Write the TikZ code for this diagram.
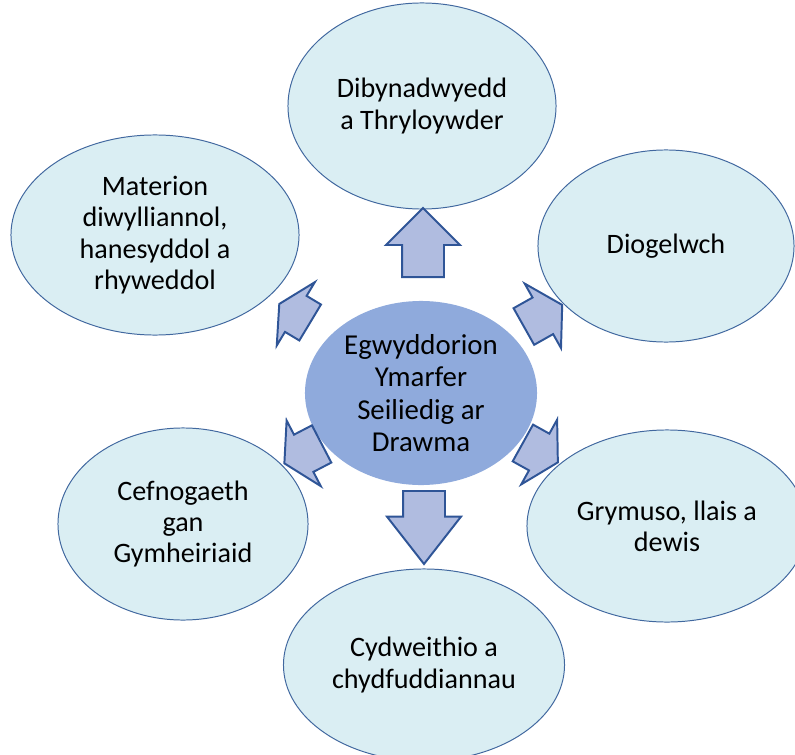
\documentclass[tikz,border=0pt]{standalone}
\usepackage{fontspec}
\setmainfont{Carlito}
\usetikzlibrary{shapes.geometric, shapes.arrows}
\definecolor{petal}{HTML}{DAEEF3}
\definecolor{petaledge}{HTML}{41689F}
\definecolor{hubfill}{HTML}{8FAADC}
\definecolor{spokefill}{HTML}{B0BCE0}
\definecolor{spokeedge}{HTML}{2F5597}

\begin{document}
\begin{tikzpicture}[x=0.025cm, y=-0.025cm,
  petalnode/.style={ellipse, draw=petaledge, fill=petal, line width=0.7pt, inner sep=0pt, outer sep=0pt,
    align=center, font=\fontsize{20}{22.2}\selectfont},
  hubnode/.style={ellipse, fill=hubfill, inner sep=0pt, outer sep=0pt,
    align=center, font=\fontsize{20.5}{23}\selectfont},
  spoke/.style={single arrow, draw=spokeedge, fill=spokefill, line width=1.4pt, inner xsep=0pt, inner ysep=0.5cm,
    single arrow head extend=0.4cm, single arrow head indent=0pt, minimum width=0pt, anchor=tail}]
  \useasboundingbox (0,0) rectangle (795,755);

  \node[petalnode, minimum width=6.7cm, minimum height=5.15cm] (dibyn) at (422,106) {Dibynadwyedd\\a Thryloywder};
  \node[petalnode, minimum width=6.4cm, minimum height=4.8cm] (diogel) at (666,246) {Diogelwch};
  \node[petalnode, minimum width=7.0cm, minimum height=4.8cm] (grymuso) at (667,526) {Grymuso, llais a\\dewis};
  \node[petalnode, minimum width=7.025cm, minimum height=4.8cm] (cydweith) at (424,665) {Cydweithio a\\chydfuddiannau};
  \node[petalnode, minimum width=6.25cm, minimum height=4.8cm] (cefnog) at (183,524) {Cefnogaeth\\gan\\Gymheiriaid};
  \node[petalnode, minimum width=7.2cm, minimum height=5.0cm] (materion) at (155,235) {Materion\\diwylliannol,\\hanesyddol a\\rhyweddol};

  \node[hubnode, minimum width=5.8cm, minimum height=4.6cm] (hub) at (421,393) {Egwyddorion\\Ymarfer\\Seiliedig ar\\Drawma};

  \node[spoke, minimum height=1.725cm, rotate=90, single arrow tip angle=90] (up) at (423,278) {};
  \node[spoke, minimum height=1.825cm, rotate=-90, single arrow tip angle=76] (down) at (424,490) {};
  \node[spoke, minimum height=1.1cm, rotate=29.4, single arrow tip angle=118] (upright) at (523,327) {};
  \node[spoke, minimum height=1.0cm, rotate=-29, single arrow tip angle=120] (downright) at (522,442.5) {};
  \node[spoke, minimum height=1.05cm, rotate=207.5, single arrow tip angle=119] (downleft) at (322.5,443.5) {};
  \node[spoke, minimum height=0.9cm, rotate=149, single arrow tip angle=125] (upleft) at (311,323) {};
\end{tikzpicture}
\end{document}
